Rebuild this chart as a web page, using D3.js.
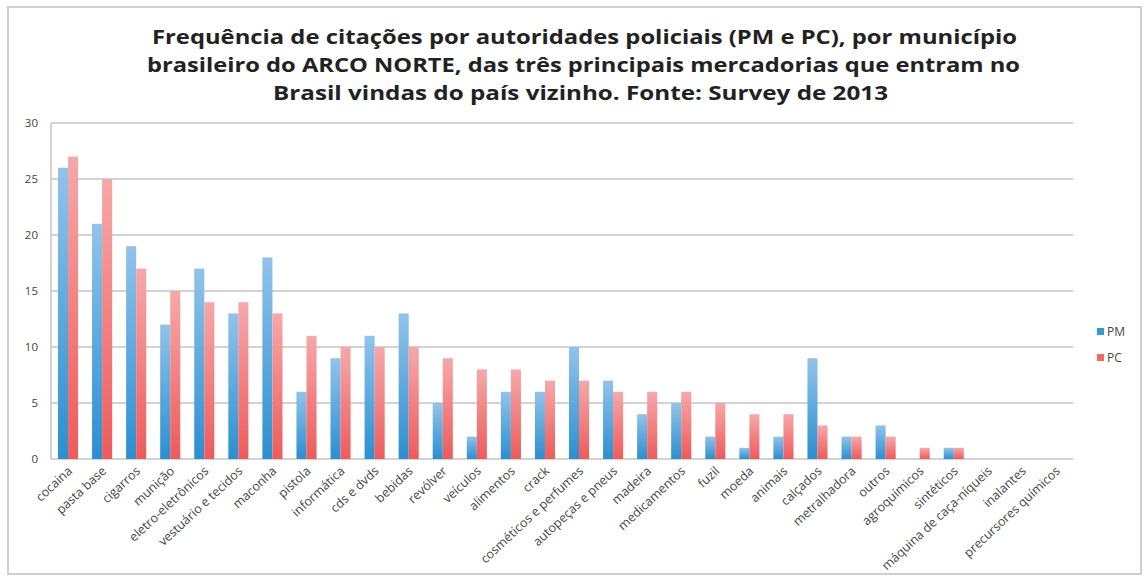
<!DOCTYPE html>
<html><head><meta charset="utf-8">
<script src="https://cdn.jsdelivr.net/npm/d3@7"></script>
<style>body{margin:0;background:#fff}svg{display:block}</style>
</head><body>
<svg id="c" width="1147" height="580"></svg>
<script>
const categories = ["cocaina","pasta base","cigarros","munição","eletro-eletrônicos","vestuário e tecidos","maconha","pistola","informática","cds e dvds","bebidas","revólver","veículos","alimentos","crack","cosméticos e perfumes","autopeças e pneus","madeira","medicamentos","fuzil","moeda","animais","calçados","metralhadora","outros","agroquímicos","sintéticos","máquina de caça-níqueis","inalantes","precursores químicos"];
const pmValues = [26,21,19,12,17,13,18,6,9,11,13,5,2,6,6,10,7,4,5,2,1,2,9,2,3,0,1,0,0,0];
const pcValues = [27,25,17,15,14,14,13,11,10,10,10,9,8,8,7,7,6,6,6,5,4,4,3,2,2,1,1,0,0,0];
const seriesNames = ["PM","PC"];
const yTicks = [0,5,10,15,20,25,30];
const titleLines = ["Frequência de citações por autoridades policiais (PM e PC), por município","brasileiro do ARCO NORTE, das três principais mercadorias que entram no","Brasil vindas do país vizinho. Fonte: Survey de 2013"];

const svg = d3.select("#c");
const font = "'Open Sans', sans-serif";
const defs = svg.append("defs");
const grads = [["gPM","#2b8fd0","#92c3ea"],["gPC","#ee5b5b","#f6a8aa"]];
grads.forEach(([id,b,t])=>{
  const g = defs.append("linearGradient").attr("id",id).attr("x1",0).attr("y1",1).attr("x2",0).attr("y2",0);
  g.append("stop").attr("offset","0%").attr("stop-color",b);
  g.append("stop").attr("offset","100%").attr("stop-color",t);
});

svg.append("rect").attr("x",8).attr("y",7).attr("width",1133).attr("height",567)
  .attr("fill","none").attr("stroke","#cfcfcf").attr("stroke-width",2);

const pLeft=51,pRight=1073,pTop=123,pBottom=459;
const x = d3.scaleBand().domain(categories).range([pLeft,pRight]).paddingInner(0.41).paddingOuter(0.205);
const y = d3.scaleLinear().domain([0,30]).range([pBottom,pTop]);
const xs = d3.scaleBand().domain(seriesNames).range([0,x.bandwidth()]);

// grid
svg.append("g").selectAll("line").data(yTicks).join("line")
  .attr("x1",pLeft).attr("x2",pRight).attr("y1",d=>y(d)).attr("y2",d=>y(d))
  .attr("stroke","#c4c4c4").attr("stroke-width",1.5);
svg.append("line").attr("x1",pLeft).attr("x2",pLeft).attr("y1",pTop).attr("y2",pBottom)
  .attr("stroke","#c4c4c4").attr("stroke-width",1.5);

// y labels
svg.append("g").selectAll("text").data(yTicks).join("text")
  .attr("x",38).attr("y",d=>y(d)+4).attr("text-anchor","end")
  .attr("font-family",font).attr("font-size",11.5).attr("fill","#444").text(d=>d);

// bars
const data = categories.map((c,i)=>({c, vals:[pmValues[i],pcValues[i]]}));
const gb = svg.append("g").selectAll("g").data(data).join("g").attr("transform",d=>`translate(${x(d.c)},0)`);
gb.selectAll("rect").data(d=>d.vals.map((v,j)=>({s:seriesNames[j],v}))).join("rect")
  .attr("x",d=>xs(d.s)).attr("width",xs.bandwidth())
  .attr("y",d=>y(d.v)).attr("height",d=>pBottom-y(d.v))
  .attr("fill",d=>d.s==="PM"?"url(#gPM)":"url(#gPC)");

// x labels
svg.append("g").selectAll("text").data(categories).join("text")
  .attr("transform",d=>`translate(${x(d)+x.bandwidth()/2+5},${pBottom+13}) rotate(-43)`)
  .attr("text-anchor","end").attr("font-family",font).attr("font-size",12.5).attr("fill","#444")
  .text(d=>d);

// title
const titleX = [152,147,273], titleW = [865,873,615];
svg.append("g").selectAll("text").data(titleLines).join("text")
  .attr("x",(d,i)=>titleX[i]).attr("y",(d,i)=>44+i*28)
  .attr("textLength",(d,i)=>titleW[i]).attr("lengthAdjust","spacingAndGlyphs")
  .attr("font-family",font).attr("font-weight","bold").attr("font-size",20).attr("fill","#222")
  .text(d=>d);

// legend
const lg = svg.append("g").selectAll("g").data(seriesNames).join("g")
  .attr("transform",(d,i)=>`translate(1097,${332+i*26})`);
lg.append("rect").attr("x",0).attr("y",-4).attr("width",7).attr("height",7)
  .attr("fill",d=>d==="PM"?"#3a97d6":"#f06868");
lg.append("text").attr("x",10).attr("y",4).attr("font-family",font).attr("font-size",12).attr("fill","#444").text(d=>d);
</script>
</body></html>
